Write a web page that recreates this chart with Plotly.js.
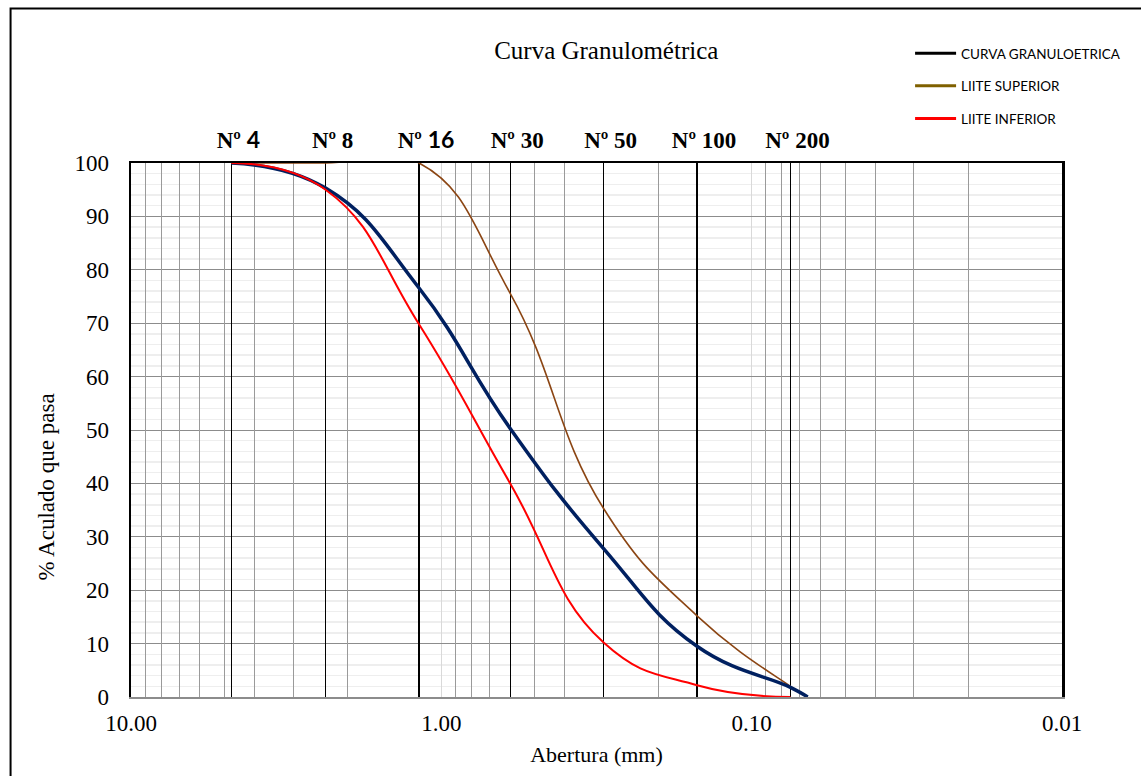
<!DOCTYPE html>
<html><head><meta charset="utf-8">
<script src="https://cdn.plot.ly/plotly-3.0.1.min.js"></script>
<style>html,body{margin:0;padding:0;background:#fff}#chart{width:1141px;height:776px}</style>
</head><body><div id="chart"></div>
<script>
// ---- data ----
const sieveSizes  = [4.75, 2.36, 1.18, 0.6, 0.3, 0.15, 0.075];
const sieveLabels = ['<b>Nº <span style="font-family:Lato">4</span></b>', '<b>Nº 8</b>',
                     '<b>Nº <span style="font-family:Lato">16</span></b>', '<b>Nº 30</b>',
                     '<b>Nº 50</b>', '<b>Nº 100</b>', '<b>Nº 200</b>'];

const curvaX = [4.75, 2.36, 1.18, 0.6, 0.3, 0.15, 0.075, 0.066];
const curvaY = [100, 95.3, 76.6, 50.3, 27.8, 9.5, 1.8, 0];

const superiorX = [4.75, 2.36, 1.18, 0.6, 0.3, 0.15, 0.075, 0.066];
const superiorY = [100, 100, 100, 75.6, 35.3, 15.2, 2.0, 0];

const inferiorX = [4.75, 2.36, 1.18, 0.6, 0.3, 0.15, 0.075];
const inferiorY = [100, 95.0, 69.8, 40.0, 10.2, 2.2, 0];

const decadeTicks  = [10, 1, 0.1, 0.01];
const decadeLabels = ['10.00', '1.00', '0.10', '0.01'];
const minorTicks = [9,8,7,6,5,4,3,2, 0.9,0.8,0.7,0.6,0.5,0.4,0.3,0.2,
                    0.09,0.08,0.07,0.06,0.05,0.04,0.03,0.02];
const legendNames = ['CURVA GRANULOETRICA', 'LIITE SUPERIOR', 'LIITE INFERIOR'];
const yTitle = '% Aculado que pasa';

// ---- chart ----
const serif = 'Liberation Serif, Times New Roman, serif';
const sm = 1.3;
const traces = [
  {x: superiorX, y: superiorY, mode: 'lines', line: {color: '#8B4513', width: 1.6, shape: 'spline', smoothing: sm}, showlegend: false, hoverinfo: 'skip'},
  {x: curvaX, y: curvaY, mode: 'lines', line: {color: '#002060', width: 3.5, shape: 'spline', smoothing: sm}, showlegend: false, hoverinfo: 'skip'},
  {x: inferiorX, y: inferiorY, mode: 'lines', line: {color: '#FF0000', width: 2, shape: 'spline', smoothing: sm}, showlegend: false, hoverinfo: 'skip'},
  {x: [null], y: [null], xaxis: 'x2', mode: 'lines', name: legendNames[0], legendgroup: 'a', line: {color: '#000000', width: 3}},
  {x: [null], y: [null], xaxis: 'x3', mode: 'lines', name: legendNames[1], legendgroup: 'b', line: {color: '#7F6000', width: 3}},
  {x: [null], y: [null], mode: 'lines', name: legendNames[2], legendgroup: 'c', line: {color: '#FF0000', width: 3}}
];

const logRange = [1, -2];
const layout = {
  width: 1141, height: 776,
  margin: {l: 130.5, r: 79, t: 163, b: 79, pad: 0},
  paper_bgcolor: '#ffffff', plot_bgcolor: '#ffffff',
  font: {family: serif, color: '#000'},
  title: {text: 'Curva Granulométrica', font: {family: serif, size: 25, color: '#000'},
          xref: 'paper', x: (606 - 130.5)/931.5, xanchor: 'center', yref: 'container', y: 1 - 50/776, yanchor: 'middle'},
  xaxis: {
    type: 'log', range: logRange,
    tickvals: decadeTicks, ticktext: decadeLabels, ticks: '', ticklabelstandoff: 4,
    tickfont: {family: serif, size: 23, color: '#000'},
    showgrid: true, gridcolor: '#d9d9d9', gridwidth: 1.3,
    showline: true, linecolor: '#8c8c8c', linewidth: 2, zeroline: false,
    title: {text: 'Abertura (mm)', font: {family: serif, size: 22, color: '#000'}, standoff: 12}
  },
  xaxis2: {
    type: 'log', range: logRange, overlaying: 'x', anchor: 'y',
    tickvals: minorTicks, showticklabels: false, ticks: '',
    showgrid: true, gridcolor: '#9a9a9a', gridwidth: 1, showline: false, zeroline: false
  },
  xaxis3: {
    type: 'log', range: logRange, overlaying: 'x', anchor: 'y', side: 'top',
    tickvals: sieveSizes, ticktext: sieveLabels, ticks: '', ticklabelstandoff: 3, ticklabelshift: -7,
    tickfont: {family: serif, size: 23, color: '#000'},
    showgrid: true, gridcolor: '#000000', gridwidth: 1.3,
    showline: true, linecolor: '#000000', linewidth: 2.5, zeroline: false
  },
  yaxis: {
    range: [0, 100], dtick: 10, tick0: 0, ticks: '', ticklabelstandoff: 15,
    tickfont: {family: serif, size: 23, color: '#000'},
    showgrid: true, gridcolor: '#8c8c8c', gridwidth: 1,
    minor: {dtick: 2, showgrid: true, gridcolor: '#eeeeee', gridwidth: 1.5},
    showline: true, linecolor: '#000000', linewidth: 2.5, mirror: true, zeroline: false
  },
  annotations: [
    {text: yTitle, textangle: -90, xref: 'paper', yref: 'paper',
     x: (46 - 130.5)/931.5, y: (697 - 487)/534, xanchor: 'center', yanchor: 'middle', showarrow: false,
     font: {family: serif, size: 23, color: '#000'}}
  ],
  legend: {x: (910 - 130.5)/931.5, y: (697 - 38)/534, xanchor: 'left', yanchor: 'top', bgcolor: 'rgba(0,0,0,0)',
           font: {family: 'Lato, Open Sans, sans-serif', size: 13.5, color: '#000'},
           tracegroupgap: 12, itemwidth: 41},
  shapes: [
    {type: 'rect', xref: 'paper', yref: 'paper', x0: (10 - 130.5)/931.5, x1: 1.3, y0: -0.4, y1: (697 - 8.5)/534,
     line: {color: '#000', width: 2}, fillcolor: 'rgba(0,0,0,0)', layer: 'below'}
  ]
};

Plotly.newPlot('chart', traces, layout, {displayModeBar: false, staticPlot: true});
</script>
</body></html>
